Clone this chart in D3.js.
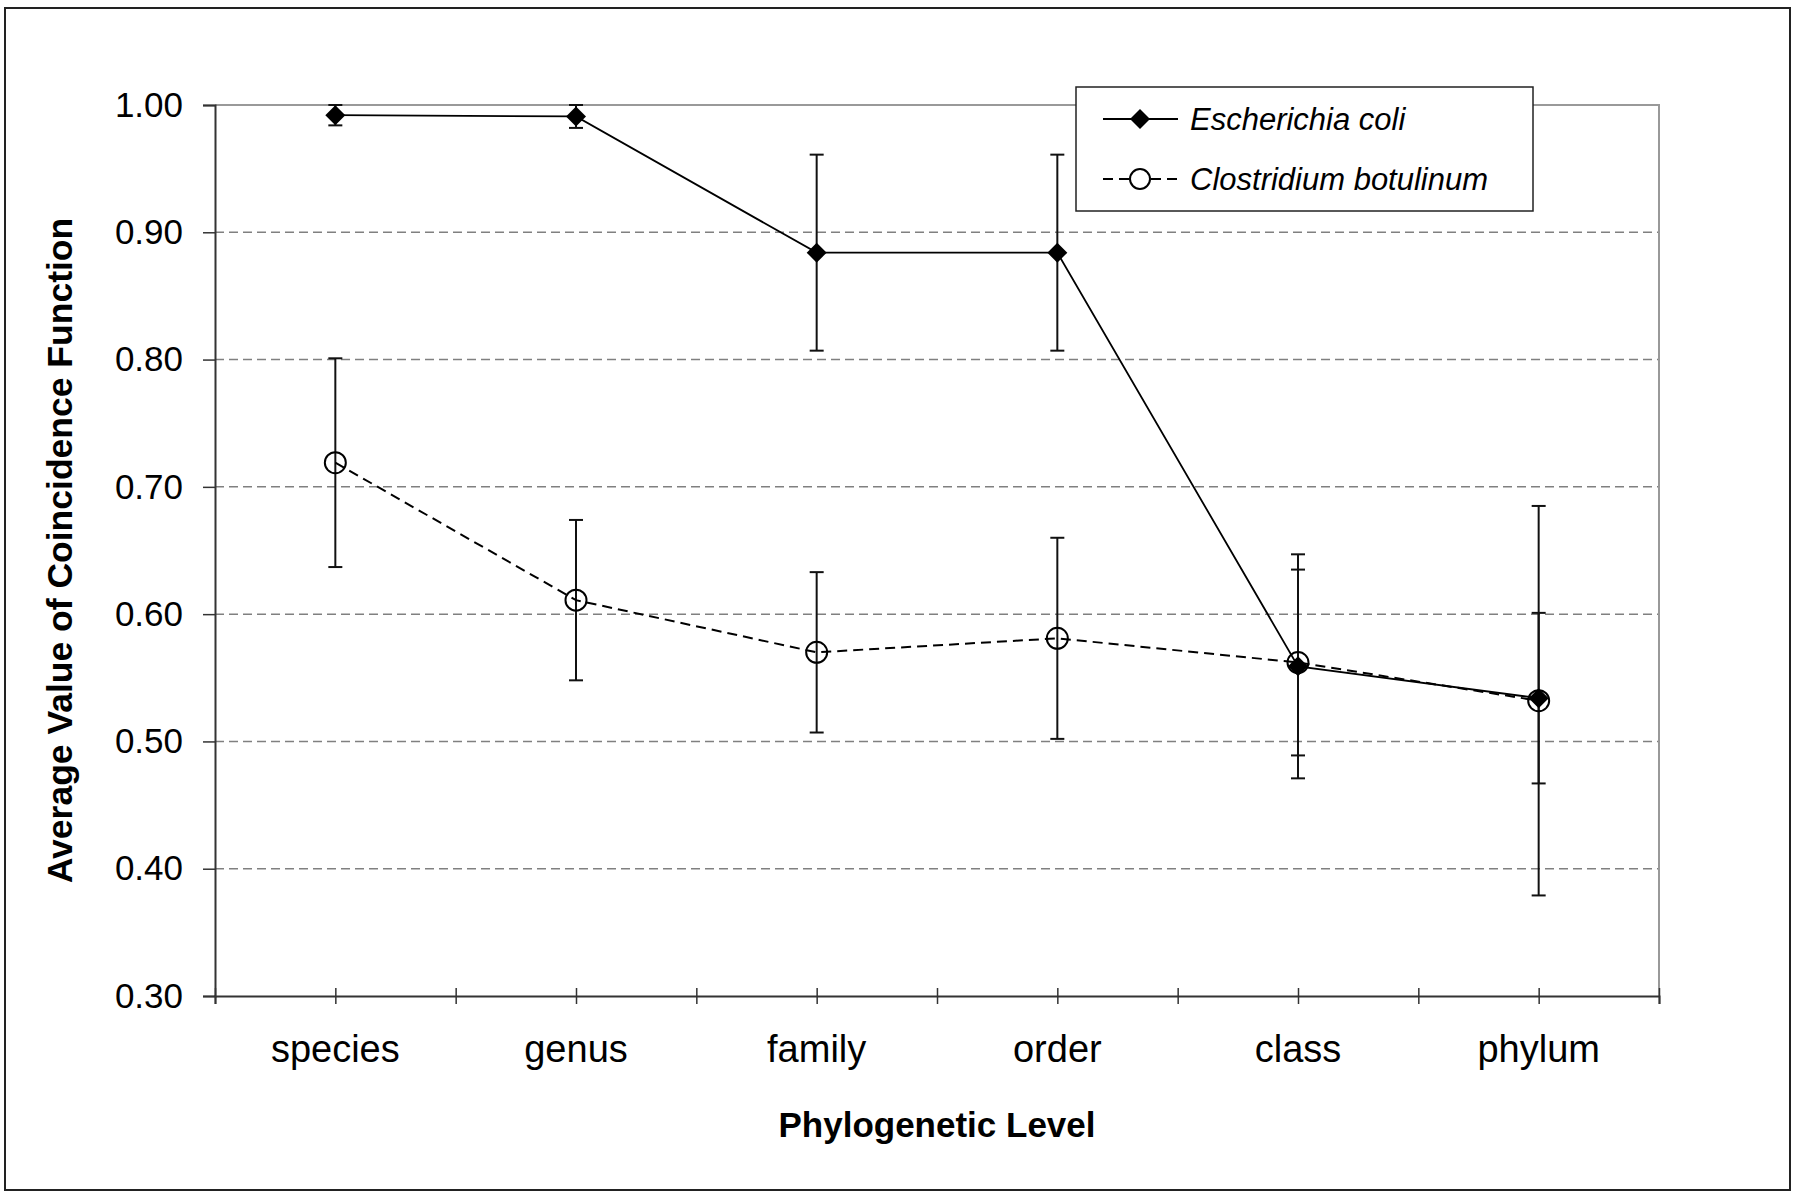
<!DOCTYPE html>
<html>
<head>
<meta charset="utf-8">
<script src="https://cdn.jsdelivr.net/npm/d3@7"></script>
<style>
  body { margin: 0; background: #fff; }
  text { font-family: "Liberation Sans", Arial, Helvetica, sans-serif; fill: #000; }
</style>
</head>
<body>
<div id="chart"></div>
<script>
// data
var levels = ["species", "genus", "family", "order", "class", "phylum"];
var ecoli = [0.992, 0.991, 0.884, 0.884, 0.559, 0.534];
var ecoliErr = [0.008, 0.009, 0.077, 0.077, 0.088, 0.067];
var cbot = [0.719, 0.611, 0.570, 0.581, 0.562, 0.532];
var cbotErr = [0.082, 0.063, 0.063, 0.079, 0.073, 0.153];
var yTicks = [0.3, 0.4, 0.5, 0.6, 0.7, 0.8, 0.9, 1.0];
var seriesNames = ["Escherichia coli", "Clostridium botulinum"];

var svgWidth = 1797;
var svgHeight = 1192;

var margin = { top: 105, bottom: 196, left: 215, right: 138 };
var chartWidth = svgWidth - margin.left - margin.right;
var chartHeight = svgHeight - margin.top - margin.bottom;

var svg = d3.select("#chart")
  .append("svg")
  .attr("width", svgWidth)
  .attr("height", svgHeight);

// outer frame
svg.append("rect")
  .attr("x", 5).attr("y", 8)
  .attr("width", 1785).attr("height", 1182)
  .attr("fill", "none")
  .attr("stroke", "#222")
  .attr("stroke-width", 2);

var chartGroup = svg.append("g").attr("transform", `translate(${margin.left}, ${margin.top})`);

var xScale = d3.scaleBand().domain(levels).range([0, chartWidth]);
var xTickScale = d3.scaleLinear().domain([0, levels.length]).range([0, chartWidth]);
var yScale = d3.scaleLinear().domain([0.3, 1.0]).range([chartHeight, 0]);
var cx = d => xScale(d) + xScale.bandwidth() / 2;

// gridlines
chartGroup.selectAll(".grid").data(yTicks.filter(t => t > 0.3 && t < 1.0)).enter()
  .append("line")
  .attr("x1", 0).attr("x2", chartWidth)
  .attr("y1", d => yScale(d)).attr("y2", d => yScale(d))
  .attr("stroke", "#808080")
  .attr("stroke-width", 1.5)
  .attr("stroke-dasharray", "9,5");

// top and right border of plot area
chartGroup.append("path")
  .attr("d", `M0,${yScale(1.0)}H${chartWidth}V${chartHeight}`)
  .attr("fill", "none")
  .attr("stroke", "#999")
  .attr("stroke-width", 2);

// y axis
var leftAxis = d3.axisLeft(yScale).tickValues(yTicks).tickFormat(d3.format(".2f")).tickSize(12).tickPadding(20);
var yAxis = chartGroup.append("g").call(leftAxis);
yAxis.select(".domain").attr("stroke", "#333").attr("stroke-width", 2);
yAxis.selectAll(".tick line").attr("stroke", "#333").attr("stroke-width", 1.5);
yAxis.selectAll("text").style("font-size", "35px").attr("fill", "#000");

// x axis: tick marks every half category, crossing the axis
var tickAxis = d3.axisBottom(xTickScale).tickValues(d3.range(0, levels.length + 0.5, 0.5)).tickSize(8).tickFormat("");
var xTicks = chartGroup.append("g").attr("transform", `translate(0, ${chartHeight})`).call(tickAxis);
xTicks.select(".domain").attr("stroke", "#333").attr("stroke-width", 2);
xTicks.selectAll(".tick line").attr("y1", -8).attr("stroke", "#333").attr("stroke-width", 1.5);

var bottomAxis = d3.axisBottom(xScale).tickSize(0).tickPadding(39);
var xAxis = chartGroup.append("g").attr("transform", `translate(0, ${chartHeight})`).call(bottomAxis);
xAxis.select(".domain").remove();
xAxis.selectAll("text").style("font-size", "38px").attr("fill", "#000");

// axis titles
chartGroup.append("text")
  .attr("transform", "rotate(-90)")
  .attr("x", -chartHeight / 2)
  .attr("y", 72 - margin.left)
  .attr("text-anchor", "middle")
  .style("font-size", "35.5px")
  .style("font-weight", "bold")
  .text("Average Value of Coincidence Function");

chartGroup.append("text")
  .attr("x", chartWidth / 2)
  .attr("y", 1137 - margin.top)
  .attr("text-anchor", "middle")
  .style("font-size", "35px")
  .style("font-weight", "bold")
  .text("Phylogenetic Level");

var ecoliData = levels.map((d, i) => ({ level: d, v: ecoli[i], e: ecoliErr[i] }));
var cbotData = levels.map((d, i) => ({ level: d, v: cbot[i], e: cbotErr[i] }));

var line = d3.line().x(d => cx(d.level)).y(d => yScale(d.v));

// error bars
function errorBars(data) {
  var g = chartGroup.append("g").attr("stroke", "#111").attr("stroke-width", 2);
  g.selectAll("line.v").data(data).enter().append("line")
    .attr("x1", d => cx(d.level)).attr("x2", d => cx(d.level))
    .attr("y1", d => yScale(d.v + d.e)).attr("y2", d => yScale(d.v - d.e));
  [1, -1].forEach(function(s) {
    g.selectAll(null).data(data).enter().append("line")
      .attr("x1", d => cx(d.level) - 7).attr("x2", d => cx(d.level) + 7)
      .attr("y1", d => yScale(d.v + s * d.e)).attr("y2", d => yScale(d.v + s * d.e));
  });
}
errorBars(cbotData);
errorBars(ecoliData);

// lines
chartGroup.append("path").datum(cbotData)
  .attr("d", line)
  .attr("fill", "none")
  .attr("stroke", "#000")
  .attr("stroke-width", 2)
  .attr("stroke-dasharray", "10,6");

chartGroup.append("path").datum(ecoliData)
  .attr("d", line)
  .attr("fill", "none")
  .attr("stroke", "#000")
  .attr("stroke-width", 1.8);

// markers
var diamond = d3.symbol().type(d3.symbolSquare).size(200);

chartGroup.selectAll(".cb").data(cbotData).enter()
  .append("circle")
  .attr("cx", d => cx(d.level))
  .attr("cy", d => yScale(d.v))
  .attr("r", 10.5)
  .attr("fill", "none")
  .attr("stroke", "#000")
  .attr("stroke-width", 2);

chartGroup.selectAll(".ec").data(ecoliData).enter()
  .append("path")
  .attr("d", diamond)
  .attr("transform", d => `translate(${cx(d.level)}, ${yScale(d.v)}) rotate(45)`)
  .attr("fill", "#000");

// legend
var legend = svg.append("g");
legend.append("rect")
  .attr("x", 1076).attr("y", 87)
  .attr("width", 457).attr("height", 124)
  .attr("fill", "#fff")
  .attr("stroke", "#222")
  .attr("stroke-width", 1.5);

var rows = [119, 179];
seriesNames.forEach(function(name, i) {
  legend.append("line")
    .attr("x1", 1103).attr("x2", 1178)
    .attr("y1", rows[i]).attr("y2", rows[i])
    .attr("stroke", "#000")
    .attr("stroke-width", 2)
    .attr("stroke-dasharray", i === 1 ? "10,6" : null);
  if (i === 0) {
    legend.append("path")
      .attr("d", diamond)
      .attr("transform", `translate(1140, ${rows[i]}) rotate(45)`)
      .attr("fill", "#000");
  } else {
    legend.append("circle")
      .attr("cx", 1140).attr("cy", rows[i]).attr("r", 10)
      .attr("fill", "#fff").attr("stroke", "#000").attr("stroke-width", 2);
  }
  legend.append("text")
    .attr("x", 1190).attr("y", rows[i] + 11)
    .style("font-size", "31px")
    .style("font-style", "italic")
    .text(name);
});
</script>
</body>
</html>
